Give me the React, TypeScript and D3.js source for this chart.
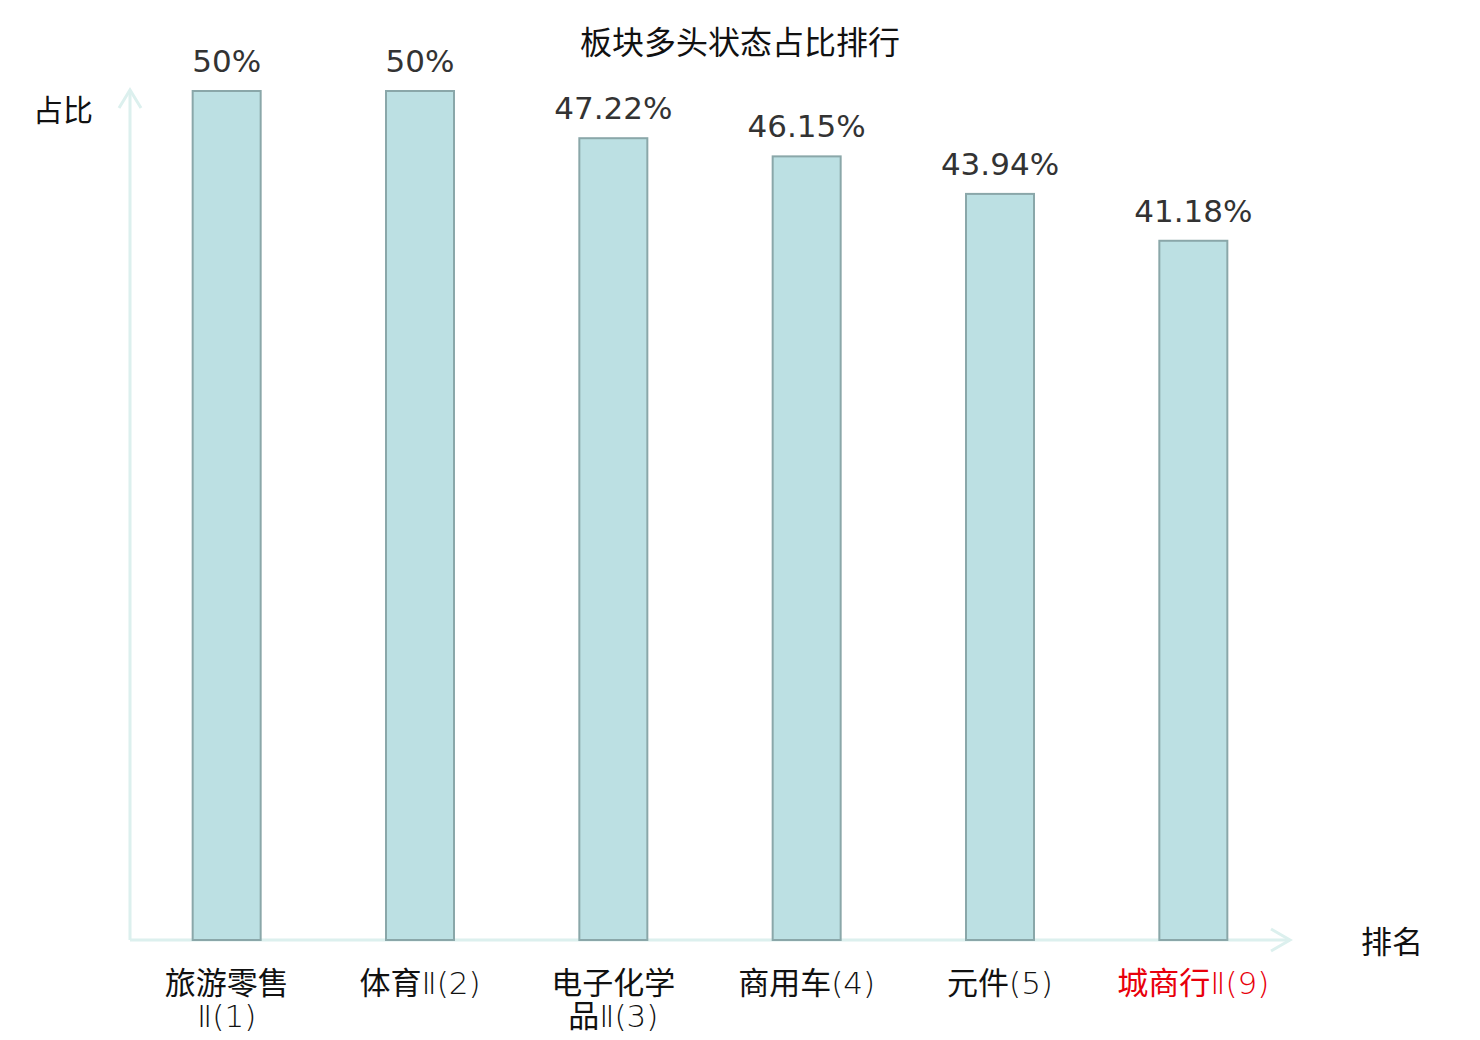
import React from "react";
import * as d3 from "d3";

const categories: string[][] = [
  ["旅游零售", "Ⅱ(1)"],
  ["体育Ⅱ(2)"],
  ["电子化学", "品Ⅱ(3)"],
  ["商用车(4)"],
  ["元件(5)"],
  ["城商行Ⅱ(9)"],
];
const values: number[] = [50, 50, 47.22, 46.15, 43.94, 41.18];
const valueLabels: string[] = ["50%", "50%", "47.22%", "46.15%", "43.94%", "41.18%"];
const highlighted: boolean[] = [false, false, false, false, false, true];

const W = 1480;
const H = 1040;
const x0 = 130;
const x1 = 1290;
const yBase = 940;
const yTop = 91;

const cjk = "'Noto Sans CJK SC', 'DejaVu Sans', sans-serif";
const latinLight = "'DejaVu Sans', sans-serif";

function runs(s: string): { t: string; c: boolean }[] {
  const out: { t: string; c: boolean }[] = [];
  for (const ch of s) {
    const c = /[\u4e00-\u9fff]/.test(ch);
    if (out.length && out[out.length - 1].c === c) out[out.length - 1].t += ch;
    else out.push({ t: ch, c });
  }
  return out;
}

export default function App() {
  const x = d3
    .scaleBand<number>()
    .domain(values.map((_, i) => i))
    .range([x0, x1])
    .paddingInner(0)
    .paddingOuter(0);
  const y = d3.scaleLinear().domain([0, 50]).range([yBase, yTop]);
  const bw = 68;
  const axisColor = "#dcf0ee";
  return (
    <svg
      width={W}
      height={H}
      style={{ position: "absolute", left: 0, top: 0, background: "#fff" }}
    >
      <text x={740} y={54} textAnchor="middle" fontFamily={cjk} fontSize={32} fill="#111">
        板块多头状态占比排行
      </text>
      <text x={63} y={121} textAnchor="middle" fontFamily={cjk} fontSize={30} fill="#111">
        占比
      </text>
      <text x={1392} y={953} textAnchor="middle" fontFamily={cjk} fontSize={31} fill="#111">
        排名
      </text>
      {/* axes */}
      <line x1={x0} y1={yBase} x2={x0} y2={90} stroke={axisColor} strokeWidth={3} />
      <polyline
        points={`${x0 - 11},${108} ${x0},${90} ${x0 + 11},${108}`}
        fill="none"
        stroke={axisColor}
        strokeWidth={3}
      />
      <line x1={x0} y1={yBase} x2={1290} y2={yBase} stroke={axisColor} strokeWidth={3} />
      <polyline
        points={`${1271},${929} ${1290},${yBase} ${1271},${951}`}
        fill="none"
        stroke={axisColor}
        strokeWidth={3}
      />
      {values.map((v, i) => {
        const cx = (x(i) as number) + x.bandwidth() / 2;
        return (
          <g key={i}>
            <rect
              x={cx - bw / 2}
              y={y(v)}
              width={bw}
              height={yBase - y(v)}
              fill="#bce0e3"
              stroke="#8aa7a9"
              strokeWidth={2}
            />
            <text
              x={cx}
              y={y(v) - 19}
              textAnchor="middle"
              fontFamily="'DejaVu Sans', sans-serif"
              fontSize={31}
              fill="#333"
            >
              {valueLabels[i]}
            </text>
            {categories[i].map((line, j) => (
              <text
                key={j}
                x={cx}
                y={994 + j * 33}
                textAnchor="middle"
                fontFamily={cjk}
                fontSize={31}
                fill={highlighted[i] ? "#e8000b" : "#111"}
              >
                {runs(line).map((r, k) =>
                  r.c ? (
                    <tspan key={k}>{r.t}</tspan>
                  ) : (
                    <tspan key={k} fontFamily={latinLight} fontWeight={200}>
                      {r.t}
                    </tspan>
                  )
                )}
              </text>
            ))}
          </g>
        );
      })}
    </svg>
  );
}
